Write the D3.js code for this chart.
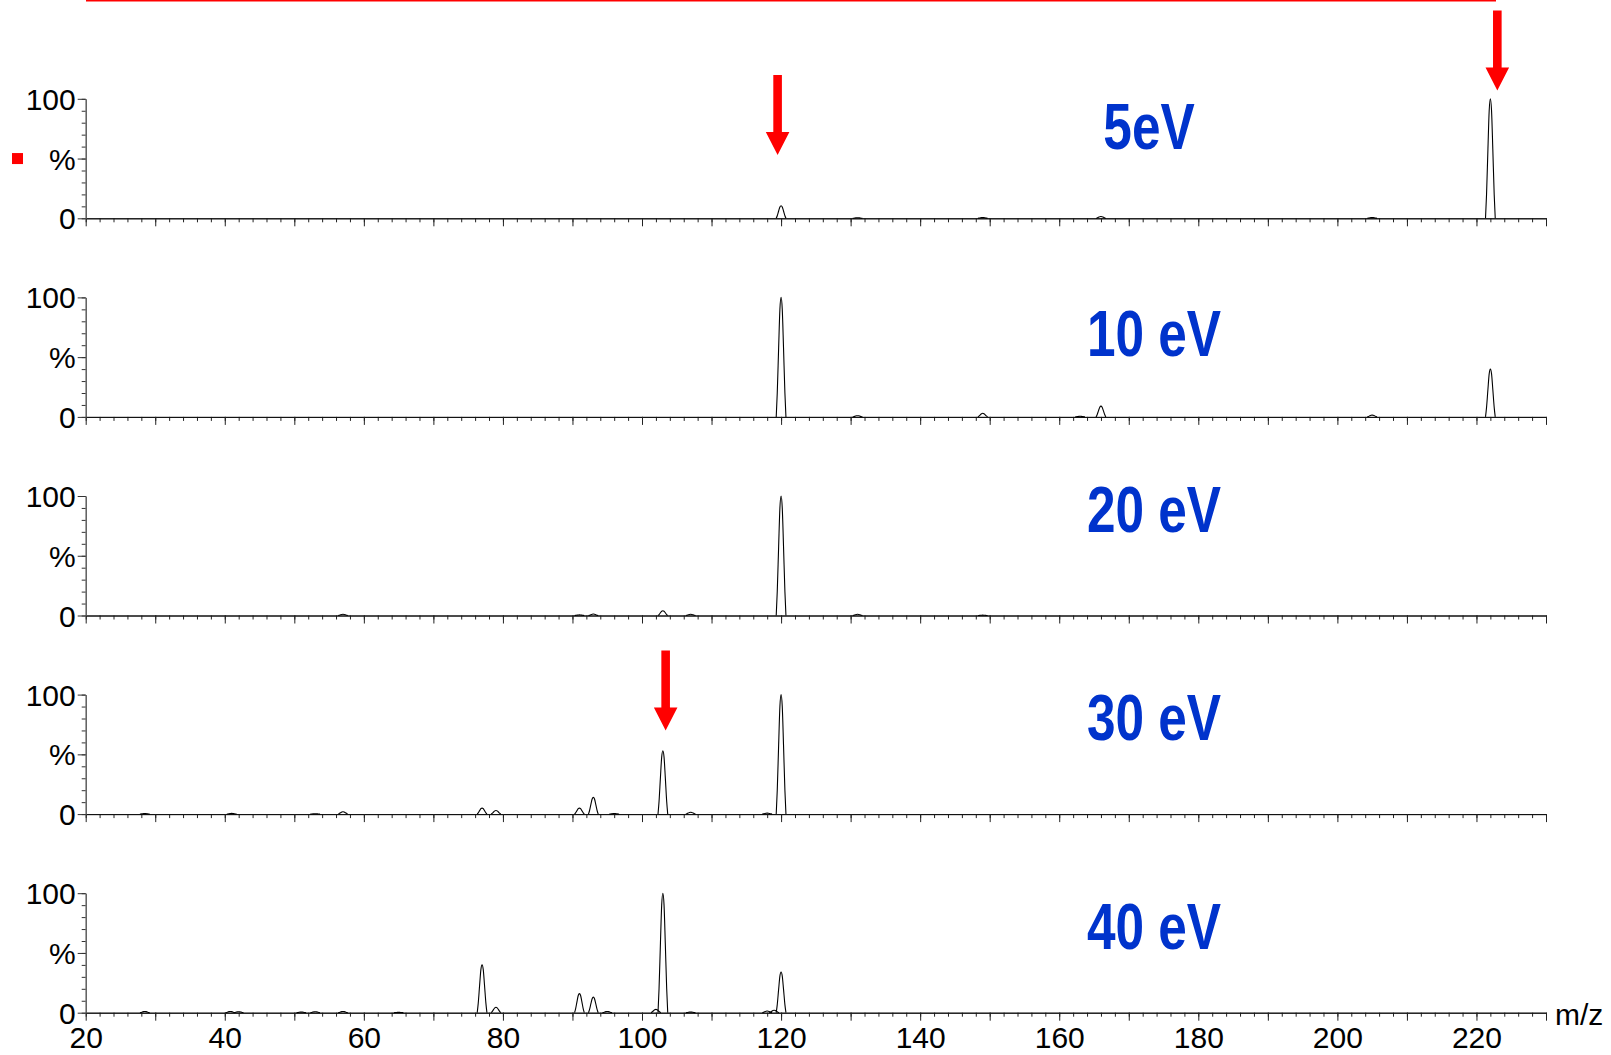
<!DOCTYPE html>
<html>
<head>
<meta charset="utf-8">
<script src="https://cdn.jsdelivr.net/npm/d3@7"></script>
<style>
  body { margin: 0; background: #fff; }
  svg { display: block; font-family: "Liberation Sans", Arial, Helvetica, sans-serif; }
</style>
</head>
<body>
<div id="chart"></div>
<script>
// Data
const energies = ["5eV", "10 eV", "20 eV", "30 eV", "40 eV"];

// [m/z, relative intensity %]
const peaks5eV = [[120, 10.5], [131, 0.5], [149, 0.6], [166, 1.5], [205, 0.6], [222, 100]];
const peaks10eV = [[120, 100], [131, 1], [149, 3], [163, 0.5], [166, 9], [205, 1.5], [222, 40]];
const peaks20eV = [[57, 1], [91, 0.5], [93, 1.2], [103, 4], [107, 1], [120, 100], [131, 1], [149, 0.3]];
const peaks30eV = [[28.5, 0.4], [41, 0.6], [53, 0.3], [57, 2], [77, 5], [79, 3], [91, 5], [93, 14],
  [96, 0.5], [103, 53], [107, 1.5], [118, 0.8], [120, 100]];
const peaks40eV = [[28.5, 1], [40.8, 1], [42, 0.8], [51, 0.5], [53, 0.8], [57, 1], [65, 0.3], [77, 40],
  [79, 4.5], [91, 16], [93, 13], [95, 1], [102, 2.8], [103, 100], [107, 0.5], [118, 1.4], [119, 2], [120, 34]];
const spectra = [peaks5eV, peaks10eV, peaks20eV, peaks30eV, peaks40eV];

const xTickLabels = [20, 40, 60, 80, 100, 120, 140, 160, 180, 200, 220];
const yTickLabels = [0, 50, 100];

// annotation arrows: panel index, m/z of the tip, height of the tip in %
const arrowPanel = [0, 0, 3];
const arrowMz = [119.5, 223, 103.4];
const arrowPct = [53, 107, 70];

// Layout
const width = 1611;
const height = 1055;
const firstBase = 218.3;
const panelH = 119.5;
const panelStep = 198.6;
const labelBaseline = [149, 356, 532, 740, 949];
const labelX = [1149, 1154, 1154, 1154, 1154];
const fontSize = 30;

// peak profile template (offset in m/z, fraction of height)
const peakDx = [-0.7, -0.55, -0.35, -0.17, 0, 0.17, 0.35, 0.55, 0.7];
const peakFr = [0, 0.2, 0.58, 0.9, 1, 0.9, 0.58, 0.2, 0];

const svg = d3
  .select("#chart")
  .append("svg")
  .attr("width", width)
  .attr("height", height);

const x = d3.scaleLinear().domain([20, 230]).range([85.7, 1546]);

//-----------------------------PANELS-----------------------------//
spectra.forEach(function (peaks, i) {
  const y0 = firstBase + i * panelStep;
  const y = d3.scaleLinear().domain([0, 100]).range([y0, y0 - panelH]);
  const g = svg.append("g").attr("class", "panel");

  // x minor ticks
  g.append("g")
    .attr("transform", `translate(0, ${y0})`)
    .call(d3.axisBottom(x).tickValues(d3.range(20, 231, 2)).tickSize(4).tickSizeOuter(0).tickFormat(""))
    .call(function (a) {
      a.select(".domain").attr("stroke", "#111");
      a.selectAll(".tick line").attr("stroke", "#222");
    });

  // x major ticks
  g.append("g")
    .attr("transform", `translate(0, ${y0})`)
    .call(
      d3.axisBottom(x)
        .tickValues(d3.range(20, 231, 10))
        .tickSize(8)
        .tickSizeOuter(0)
        .tickPadding(6)
        .tickFormat(function (d) {
          return i === 4 && xTickLabels.includes(d) ? d : "";
        })
    )
    .attr("font-size", fontSize)
    .attr("font-family", null)
    .call(function (a) {
      a.select(".domain").attr("stroke", "#111");
      a.selectAll(".tick line").attr("stroke", "#222");
      a.selectAll("text").attr("fill", "#000");
    });

  // y minor ticks
  g.append("g")
    .attr("transform", `translate(${x(20)}, 0)`)
    .call(d3.axisLeft(y).tickValues(d3.range(0, 101, 10)).tickSize(4).tickSizeOuter(0).tickFormat(""))
    .call(function (a) {
      a.select(".domain").attr("stroke", "#555");
      a.selectAll(".tick line").attr("stroke", "#333");
    });

  // y major ticks
  g.append("g")
    .attr("transform", `translate(${x(20)}, 0)`)
    .call(
      d3.axisLeft(y)
        .tickValues(yTickLabels)
        .tickSize(8)
        .tickSizeOuter(0)
        .tickPadding(2)
        .tickFormat(function (d) {
          return d === 50 ? "%" : d;
        })
    )
    .attr("font-size", fontSize)
    .attr("font-family", null)
    .call(function (a) {
      a.select(".domain").attr("stroke", "#555");
      a.selectAll(".tick line").attr("stroke", "#333");
      a.selectAll("text").attr("fill", "#000").attr("dy", "0.35em");
    });

  // spectrum peaks
  const line = d3
    .line()
    .x(function (d) { return x(d[0]); })
    .y(function (d) { return y(d[1]); })
    .curve(d3.curveMonotoneX);

  g.selectAll(".peak")
    .data(peaks)
    .enter()
    .append("path")
    .attr("class", "peak")
    .attr("fill", "none")
    .attr("stroke", "#000")
    .attr("stroke-width", 1.1)
    .attr("d", function (p) {
      return line(peakDx.map(function (dx, k) { return [p[0] + dx, p[1] * peakFr[k]]; }));
    });

  // energy label
  g.append("text")
    .attr("transform", `translate(${labelX[i]}, ${labelBaseline[i]}) scale(0.79, 1)`)
    .attr("text-anchor", "middle")
    .attr("font-size", 65)
    .attr("font-weight", "bold")
    .attr("fill", "#0033cc")
    .text(energies[i]);

  // arrows in this panel
  arrowPanel.forEach(function (p, k) {
    if (p !== i) return;
    const tx = x(arrowMz[k]);
    const ty = y(arrowPct[k]);
    const pts = [
      [tx - 4.3, ty - 80], [tx + 4.3, ty - 80], [tx + 4.3, ty - 23], [tx + 11.8, ty - 23],
      [tx, ty], [tx - 11.8, ty - 23], [tx - 4.3, ty - 23]
    ];
    g.append("path")
      .attr("d", "M" + pts.join("L") + "Z")
      .attr("fill", "#ff0000");
  });

  if (i === 0) {
    // small red marker beside the first % label
    g.append("rect")
      .attr("x", 12)
      .attr("y", y(50) - 5.5)
      .attr("width", 11)
      .attr("height", 11)
      .attr("fill", "#ff0000");
  }
});

// m/z axis title
svg.append("text")
  .attr("x", 1555)
  .attr("y", 1025)
  .attr("font-size", fontSize)
  .attr("fill", "#000")
  .text("m/z");

// red rule along the top edge
svg.append("rect")
  .attr("x", 86)
  .attr("y", 0)
  .attr("width", 1496 - 86)
  .attr("height", 1.5)
  .attr("fill", "#ff0000");
</script>
</body>
</html>
